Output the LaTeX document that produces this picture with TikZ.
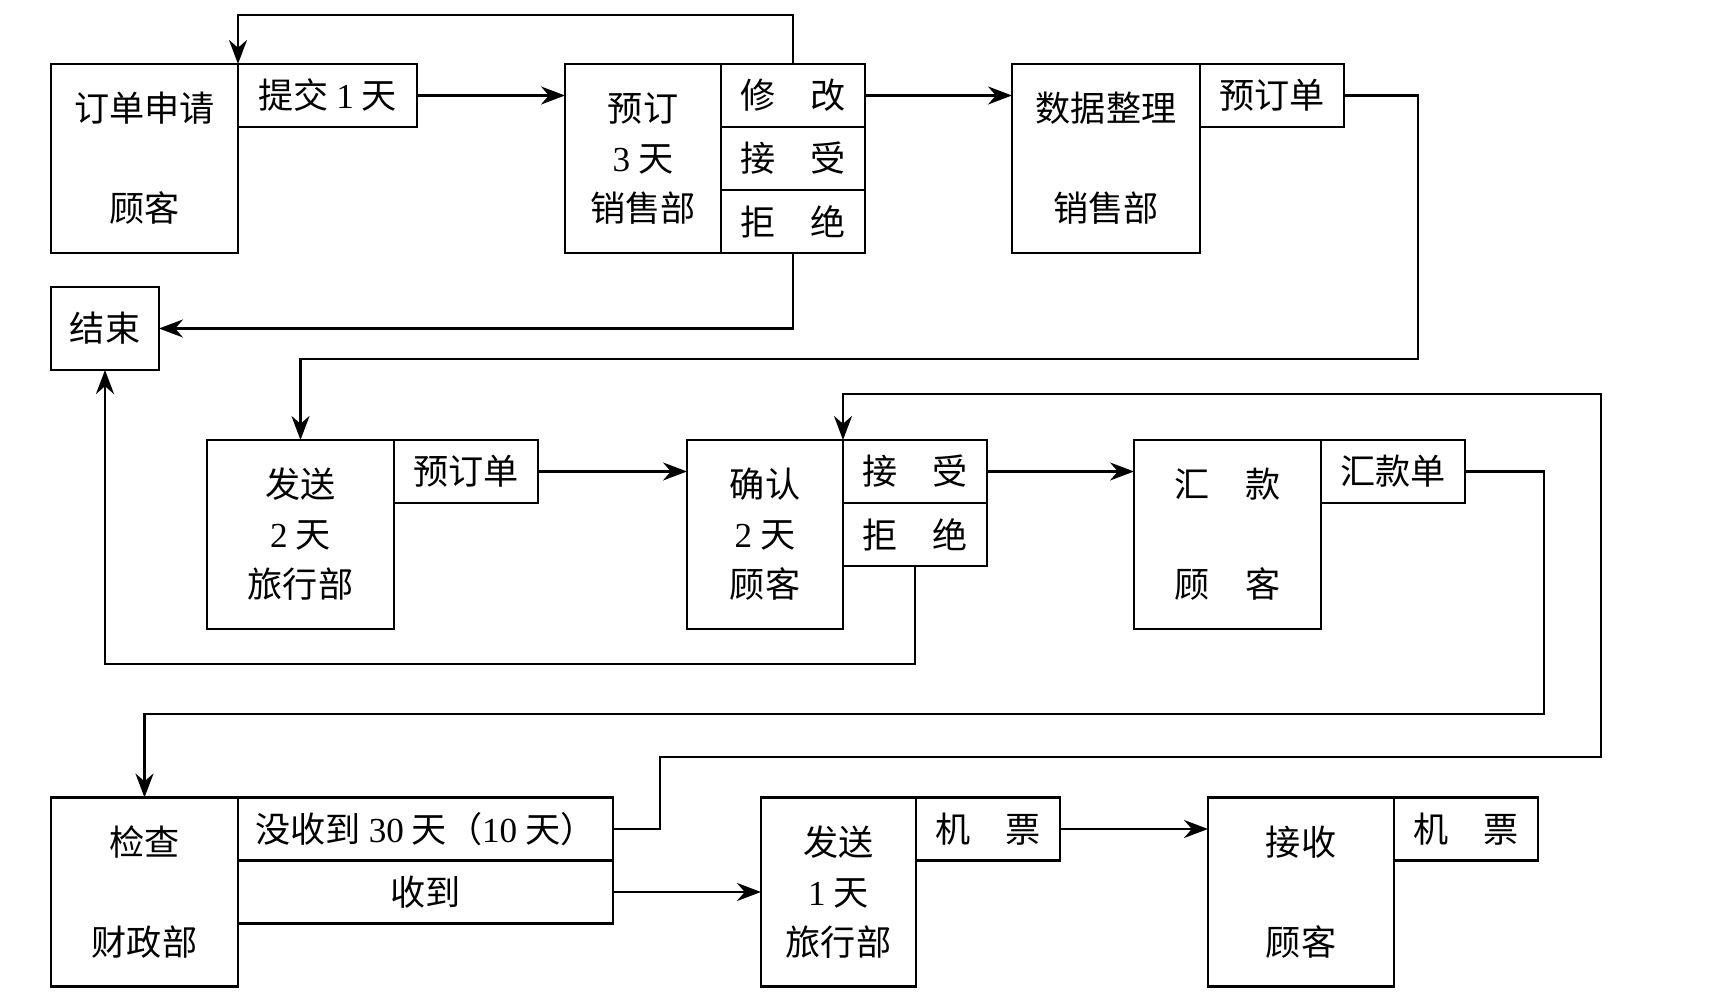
\documentclass[tikz,border=0pt]{standalone}
\usepackage{fontspec}
\setmainfont{Liberation Serif}
\newfontfamily\cjk{Noto Sans CJK SC}
\usepackage{tikz}
\usetikzlibrary{positioning,arrows.meta}
\newcommand{\Num}[1]{\textrm{#1}}

\begin{document}
\begin{tikzpicture}[
  x=0.1mm, y=-0.1mm,
  box/.style={draw, line width=0.8pt, minimum width=18.7mm, minimum height=18.9mm, inner sep=0pt, outer sep=0pt, align=center, font=\cjk\fontsize{10}{14.2}\selectfont},
  narrow/.style={box, minimum width=15.6mm},
  tag/.style={draw, line width=0.8pt, minimum width=14.4mm, minimum height=6.3mm, inner sep=0pt, outer sep=0pt, align=center, font=\cjk\fontsize{10}{12}\selectfont},
  arrow/.style={-{Stealth[length=2.4mm,width=1.8mm]}, line width=0.7pt},
  line/.style={line width=0.7pt},
]
\useasboundingbox (0,0) rectangle (1710,1005);

% Row 1: order request and booking
\node[box] (ddsq) at (144.5,158.5) {订单申请\\[14.2pt]顾客};
\node[tag, minimum width=17.9mm, anchor=north west] (tijiao) at (ddsq.north east) {提交 \Num{1} 天};
\node[narrow] (yuding) at (643,158.5) {预订\\\Num{3} 天\\销售部};
\node[tag, anchor=north west] (xiugai) at (yuding.north east) {修\quad 改};
\node[tag, anchor=north] (jieshou1) at (xiugai.south) {接\quad 受};
\node[tag, anchor=north] (jujue1) at (jieshou1.south) {拒\quad 绝};
\node[box, minimum width=18.8mm] (sjzl) at (1106,158.5) {数据整理\\[14.2pt]销售部};
\node[tag, anchor=north west] (ydd1) at (sjzl.north east) {预订单};
\node[box, minimum width=10.8mm, minimum height=8.3mm] (end) at (105,328.5) {结束};

% Row 2: sending, confirming, paying
\node[box] (fasong2) at (300.5,534.5) {发送\\\Num{2} 天\\旅行部};
\node[tag, anchor=north west] (ydd2) at (fasong2.north east) {预订单};
\node[narrow] (queren) at (765,534.5) {确认\\\Num{2} 天\\顾客};
\node[tag, anchor=north west] (jieshou2) at (queren.north east) {接\quad 受};
\node[tag, anchor=north] (jujue2) at (jieshou2.south) {拒\quad 绝};
\node[box] (huikuan) at (1227.5,534.5) {汇\quad 款\\[14.2pt]顾\quad 客};
\node[tag, anchor=north west] (hkd) at (huikuan.north east) {汇款单};

% Row 3: checking, tickets
\node[box] (jiancha) at (144.5,892) {检查\\[14.2pt]财政部};
\node[tag, minimum width=37.5mm, anchor=north west] (meishoudao) at (jiancha.north east) {没收到 \Num{30} 天（\Num{10} 天）};
\node[tag, minimum width=37.5mm, anchor=north] (shoudao) at (meishoudao.south) {收到};
\node[box, minimum width=15.5mm] (fasong3) at (838.5,892) {发送\\\Num{1} 天\\旅行部};
\node[tag, anchor=north west] (jp1) at (fasong3.north east) {机\quad 票};
\node[box, minimum width=18.6mm] (jieshou3) at (1301,892) {接收\\[14.2pt]顾客};
\node[tag, anchor=north west] (jp2) at (jieshou3.north east) {机\quad 票};

% bends of the long connectors
\coordinate (t1) at (0,15);
\coordinate (d1) at (1418,359);
\coordinate (j1) at (0,664);
\coordinate (h1) at (1544,714);
\coordinate (k1) at (660,757);
\coordinate (k2) at (1601,394);

% straight arrows
\draw[arrow] (tijiao.east) -- (tijiao.east -| yuding.west);
\draw[arrow] (xiugai.east) -- (xiugai.east -| sjzl.west);
\draw[arrow] (ydd2.east) -- (ydd2.east -| queren.west);
\draw[arrow] (jieshou2.east) -- (jieshou2.east -| huikuan.west);
\draw[arrow] (shoudao.east) -- (shoudao.east -| fasong3.west);
\draw[arrow] (jp1.east) -- (jp1.east -| jieshou3.west);

% loops back and down
\draw[arrow] (xiugai.north) -- (xiugai.north |- t1) -| (ddsq.north east);
\draw[arrow] (jujue1.south) |- (end.east);
\draw[arrow] (ydd1.east) -| (d1) -| (fasong2.north);
\draw[arrow] (jujue2.south) -- (jujue2.south |- j1) -| (end.south);
\draw[arrow] (hkd.east) -| (h1) -| (jiancha.north);
\draw[arrow] (meishoudao.east) -| (k1) -| (k2) -| (queren.north east);

\end{tikzpicture}
\end{document}
